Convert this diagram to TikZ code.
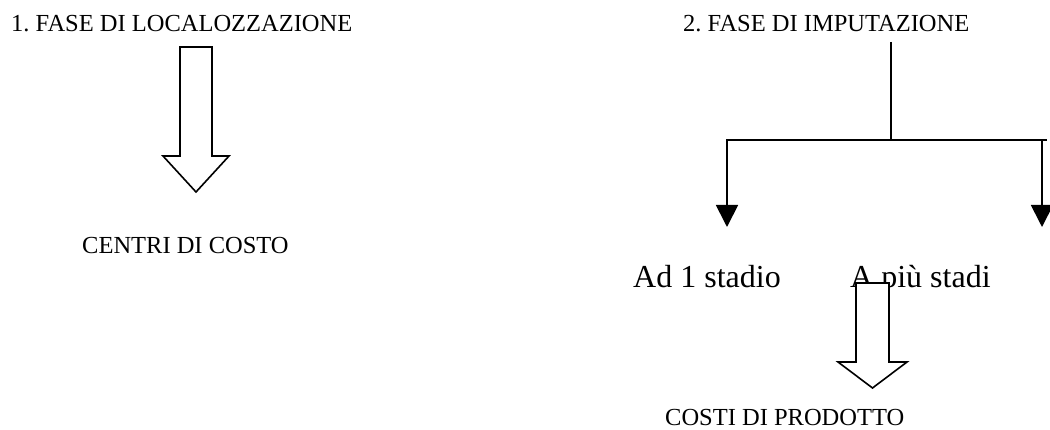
\documentclass[tikz,border=0pt]{standalone}
\usepackage{fontspec}
\setmainfont{Liberation Serif}
\usetikzlibrary{arrows.meta}
\frenchspacing
\begin{document}
\begin{tikzpicture}[x=1pt,y=-1pt,
  lbl/.style={anchor=base west, inner sep=0pt, font=\fontsize{24.5}{29}\selectfont},
  big/.style={anchor=base west, inner sep=0pt, font=\fontsize{32}{38}\selectfont},
  conn/.style={line width=1.8pt},
  arr/.style={conn, -{Triangle[length=22pt,width=22pt]}},
  blockarrow/.style={line width=1.6pt, fill=white, line join=miter}]
\useasboundingbox (0,0) rectangle (1050,430);
\fill[white] (0,0) rectangle (1050,430);
% texts
\node[lbl] (t1) at (11,32) {1. FASE DI LOCALOZZAZIONE};
\node[lbl] (t2) at (683,32) {2. FASE DI IMPUTAZIONE};
\node[lbl] (cc) at (82,254) {CENTRI DI COSTO};
\node[big] (s1) at (633,288) {Ad 1 stadio};
\node[big] (s2) at (850,288) {A più stadi};
\node[lbl] (cp) at (665,425) {COSTI DI PRODOTTO};
% tree connectors
\coordinate (top) at (891,42);
\coordinate (j) at (891,140);
\coordinate (jl) at (727,140);
\coordinate (jr) at (1042,140);
\coordinate (el) at (727,227);
\coordinate (er) at (1042,227);
\draw[conn] (top) -- (j);
\draw[conn] (jl) ++(-1,0) -- (1047,140);
\draw[arr] (jl) -- (el);
\draw[arr] (jr) -- (er);
% block arrow 1
\draw[blockarrow] (180,47) -- (212,47) -- (212,156) -- (229,156) -- (196,192)
  -- (163,156) -- (180,156) -- cycle;
% block arrow 2
\draw[blockarrow] (856,283) -- (889,283) -- (889,362) -- (907,362) -- (872.5,388)
  -- (838,362) -- (856,362) -- cycle;
\end{tikzpicture}
\end{document}
